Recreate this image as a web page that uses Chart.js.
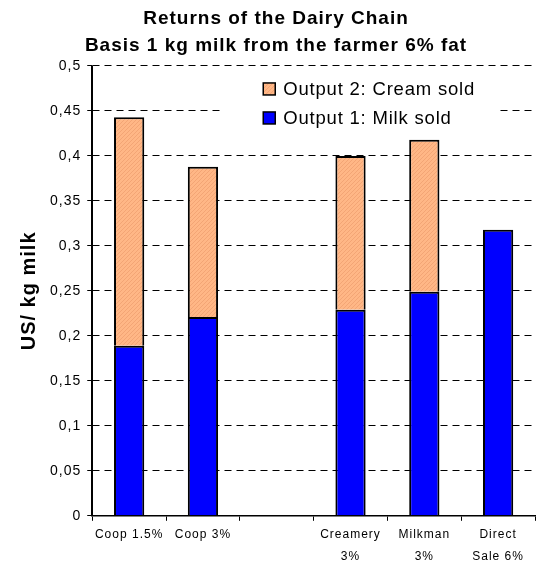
<!DOCTYPE html>
<html>
<head>
<meta charset="utf-8">
<script src="https://cdn.jsdelivr.net/npm/chart.js@4.4.1/dist/chart.umd.min.js"></script>
<style>
  body { margin: 0; background: #fff; }
  #wrap { width: 542px; height: 570px; }
</style>
</head>
<body>
<div id="wrap"><canvas id="chart"></canvas></div>
<script>
// values (US$ per kg milk)
const categories = [["Coop 1.5%"], ["Coop 3%"], [""], ["Creamery", "3%"], ["Milkman", "3%"], ["Direct", "Sale 6%"]];
const milkSold = [0.189, 0.221, null, 0.229, 0.249, 0.318];
const creamSold = [0.254, 0.167, null, 0.171, 0.169, null];
const titleLines = ["Returns of the Dairy Chain", "Basis 1 kg milk from the farmer 6% fat"];
const yTitle = "US/ kg milk";

const FONT = "'Liberation Sans', Arial, sans-serif";

// hatched orange fill
function hatch(){
  const c = document.createElement("canvas");
  c.width = 4; c.height = 4;
  const g = c.getContext("2d");
  g.fillStyle = "#FFB786";
  g.fillRect(0, 0, 4, 4);
  g.strokeStyle = "#F3A575";
  g.lineWidth = 1;
  g.beginPath();
  g.moveTo(0, 4); g.lineTo(4, 0);
  g.stroke();
  return g.createPattern(c, "repeat");
}
const creamFill = hatch();

// the reference text is spaced out a little
const spacing = {
  id: "spacing",
  beforeUpdate(chart){ chart.ctx.letterSpacing = "1px"; },
  beforeLayout(chart){ chart.ctx.letterSpacing = "1px"; },
  beforeDraw(chart){ chart.ctx.letterSpacing = "1px"; }
};

// solid y axis line (grid dash also hits the border) + legend in a white box
const extras = {
  id: "extras",
  afterDatasetsDraw(chart){
    const ctx = chart.ctx;
    const a = chart.chartArea;
    ctx.save();
    ctx.setLineDash([]);
    ctx.strokeStyle = "#000";
    ctx.lineWidth = 1.5;
    ctx.beginPath();
    ctx.moveTo(a.left, a.top);
    ctx.lineTo(a.left, a.bottom);
    ctx.stroke();

    const x0 = a.left + 130, y0 = a.top + 4;
    ctx.fillStyle = "#fff";
    ctx.fillRect(x0, y0, 274, 66);
    const items = [chart.data.datasets[1], chart.data.datasets[0]];
    ctx.font = "18.5px " + FONT;
    ctx.letterSpacing = "0.8px";
    ctx.textBaseline = "middle";
    items.forEach((ds, i) => {
      const cy = y0 + 19 + i * 29;
      ctx.fillStyle = ds.backgroundColor;
      ctx.fillRect(x0 + 41, cy - 6, 12, 12);
      ctx.strokeStyle = "#000";
      ctx.lineWidth = 1.5;
      ctx.strokeRect(x0 + 41, cy - 6, 12, 12);
      ctx.fillStyle = "#000";
      ctx.fillText(ds.label, x0 + 61, cy + 1);
    });
    ctx.restore();
  }
};

const fmt = v => v === 0 ? "0" : String(Math.round(v * 100) / 100).replace(".", ",");

new Chart(document.getElementById("chart"), {
  type: "bar",
  data: {
    labels: categories,
    datasets: [
      { label: "Output 1: Milk sold", data: milkSold, backgroundColor: "#0000FF",
        borderColor: "#000", borderWidth: 2 },
      { label: "Output 2: Cream sold", data: creamSold, backgroundColor: creamFill,
        borderColor: "#000", borderWidth: 2 }
    ]
  },
  options: {
    responsive: true,
    maintainAspectRatio: false,
    animation: false,
    devicePixelRatio: 1,
    layout: { padding: { left: 17, right: 7, top: 0, bottom: 0 } },
    datasets: { bar: { categoryPercentage: 1, barPercentage: 0.41 } },
    scales: {
      x: {
        stacked: true,
        border: { color: "#000", width: 1.5 },
        grid: { offset: true, drawOnChartArea: false, color: "#000", tickLength: 5, lineWidth: 1 },
        ticks: { color: "#000", font: { family: FONT, size: 12, lineHeight: 1.8 },
          maxRotation: 0, autoSkip: false, padding: 3 }
      },
      y: {
        stacked: true,
        min: 0, max: 0.5,
        border: { color: "#000", width: 1.5, dash: [7, 5] },
        grid: { color: "#000", lineWidth: 1, tickLength: 5 },
        ticks: { stepSize: 0.05, color: "#000", callback: fmt, padding: 6,
          font: { family: FONT, size: 14 } },
        title: { display: true, text: yTitle, color: "#000", padding: { top: 0, bottom: 3 },
          font: { family: FONT, size: 20, weight: "bold" } }
      }
    },
    plugins: {
      legend: { display: false },
      tooltip: { enabled: false },
      title: { display: true, text: titleLines, color: "#000", padding: { top: 5, bottom: 7 },
        font: { family: FONT, size: 19, weight: "bold", lineHeight: 1.42 } }
    }
  },
  plugins: [spacing, extras]
});
</script>
</body>
</html>
